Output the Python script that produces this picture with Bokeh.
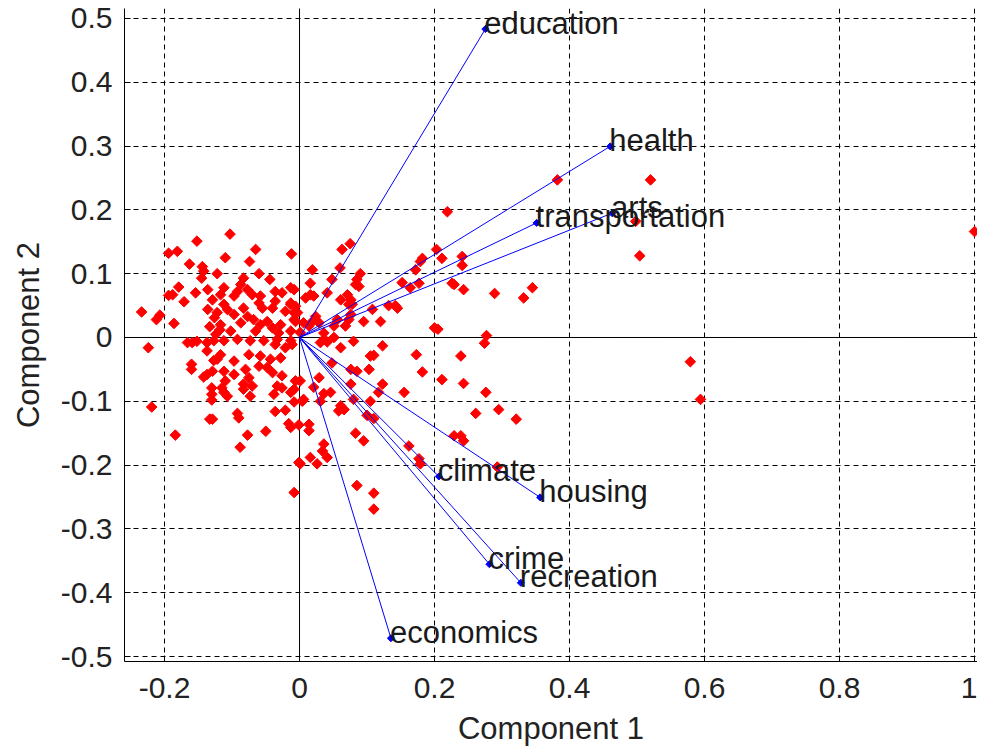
import math
from bokeh.plotting import figure
from bokeh.models import Range1d, Span, FixedTicker, PrintfTickFormatter, ColumnDataSource
from bokeh.core.properties import value
from bokeh.embed import file_html
from bokeh.resources import INLINE

# Variable loadings (component 1, component 2)
var_names = ["climate", "housing", "health", "crime", "transportation",
             "education", "arts", "recreation", "economics"]
coef1 = [0.2064, 0.3565, 0.4602, 0.2813, 0.3512, 0.2753, 0.4631, 0.3279, 0.1354]
coef2 = [-0.2178, -0.2506, 0.2995, -0.3553, 0.1796, 0.4834, 0.1948, -0.3845, -0.4713]

score1 = [
    -0.152, -0.194, -0.181, -0.163, -0.144, -0.142, -0.145, -0.179, -0.194, -0.188,
    -0.171, -0.154, -0.234, -0.212, -0.207, -0.186, -0.136, -0.129, -0.136, -0.126,
    -0.133, -0.124,
    -0.103, -0.065, -0.110, -0.074, -0.012, -0.122, -0.060, -0.044, -0.083, -0.087,
    -0.092, -0.097, -0.112, -0.117, -0.077, -0.070, -0.058, -0.060, -0.055, -0.036,
    -0.026, -0.013, -0.013, -0.021, -0.008, -0.036, -0.040, -0.112, -0.107, -0.097,
    -0.122, -0.083, -0.077, -0.087, -0.068, -0.058, -0.065, -0.048, -0.040, -0.028,
    -0.031, -0.013, -0.006, -0.117, -0.102, -0.118,
    -0.127, -0.112, -0.092, -0.073, -0.053, -0.033, -0.013,
    -0.117, -0.122, -0.097, -0.075, -0.058, -0.043, -0.028,
    -0.036, -0.021, -0.011, -0.060, -0.048, -0.040,
    -0.129, -0.112, -0.097, -0.080, -0.075, -0.070,
    -0.026, -0.033, -0.026, -0.110, -0.115, -0.112, -0.107,
    -0.083, -0.083, -0.073, -0.038, -0.013, -0.006, 0.004,
    -0.036, -0.021, -0.092, -0.090, -0.129, -0.016, -0.001, -0.050, -0.077, -0.088, -0.001,
    -0.224, -0.166, -0.159, -0.152, -0.137, -0.137, -0.127, -0.160, -0.160,
    -0.137, -0.142, -0.130, -0.130, -0.130, -0.219, -0.133, -0.184,
    0.001, -0.008, -0.008, -0.008,
    0.075, 0.063, 0.060, 0.019, 0.048, 0.090, 0.085, 0.083, 0.088, 0.016,
    -0.008, -0.013, 0.016, 0.009, 0.021, 0.041, 0.061, 0.071, 0.076, 0.073, 0.078,
    -0.006, -0.003, -0.008, 0.024, 0.029, 0.019, 0.014, 0.056, 0.051,
    0.076, 0.073, 0.068, 0.108, 0.095, 0.120, 0.132, 0.142, 0.145,
    0.152, 0.164, 0.177, 0.172, 0.179, 0.182, 0.203, 0.211, 0.226, 0.229, 0.243,
    0.241, 0.241, 0.289, 0.332, 0.345, 0.200, 0.205, 0.277, 0.274, 0.123,
    0.061, 0.080, 0.105, 0.173, 0.239, 0.036, 0.036, 0.051, 0.006, 0.001,
    0.031, 0.041, 0.110, 0.182, 0.211, 0.243, 0.276, 0.295, 0.261, 0.321,
    0.048, 0.076, 0.085, 0.103, 0.029, 0.021, 0.006, 0.036, 0.046, 0.076,
    0.123, 0.117, 0.155, 0.031, 0.080, 0.105, 0.061, 0.066, 0.058, 0.100, 0.110,
    0.014, 0.014, -0.013, 0.229, 0.239, 0.243, 0.083, 0.095,
    0.036, 0.034, 0.041, 0.016, 0.026, 0.001, 0.162, 0.177, 0.179, 0.293,
    0.085, 0.110, 0.110,
    0.382, 0.520, 0.498, 0.504, 1.000, 0.579, 0.594, 0.219,
]
score2 = [
    0.151, 0.132, 0.135, 0.115, 0.111, 0.104, 0.093, 0.079, 0.066, 0.067,
    0.056, 0.070, 0.040, 0.028, 0.035, 0.022, 0.075, 0.059, 0.044, 0.031,
    0.017, 0.005,
    0.162, 0.138, 0.125, 0.119, 0.131, 0.100, 0.100, 0.091, 0.093, 0.083,
    0.072, 0.065, 0.078, 0.067, 0.075, 0.067, 0.065, 0.054, 0.046, 0.072,
    0.070, 0.078, 0.052, 0.041, 0.039, 0.057, 0.046, 0.052, 0.044, 0.036,
    0.039, 0.046, 0.033, 0.023, 0.028, 0.020, 0.010, 0.025, 0.015, 0.020,
    0.007, 0.010, 0.025, 0.020, 0.010, 0.012,
    -0.005, -0.005, -0.003, -0.005, -0.005, -0.003, -0.005,
    -0.027, -0.034, -0.037, -0.027, -0.029, -0.034, -0.032,
    -0.011, -0.016, -0.011, -0.045, -0.047, -0.055,
    -0.053, -0.053, -0.058, -0.050, -0.063, -0.076,
    -0.060, -0.076, -0.079, -0.068, -0.079, -0.086, -0.092,
    -0.073, -0.081, -0.092, -0.089, -0.086, -0.068, -0.100,
    -0.116, -0.114, -0.119, -0.126, -0.128, -0.135, -0.137, -0.147, -0.153, -0.172, -0.196,
    -0.016, -0.008, -0.008, -0.006, -0.008, -0.021, -0.036, -0.042, -0.050,
    -0.058, -0.062, -0.079, -0.089, -0.098, -0.109, -0.128, -0.153,
    -0.068, -0.081, -0.101, -0.243,
    0.147, 0.138, 0.109, 0.106, 0.091, 0.100, 0.091, 0.083, 0.080, 0.085,
    0.075, 0.054, 0.067, 0.062, 0.065, 0.070, 0.059, 0.067, 0.059, 0.052, 0.052,
    0.049, 0.039, 0.028, 0.033, 0.023, 0.025, 0.018, 0.028, 0.018,
    0.036, 0.028, 0.018, 0.044, 0.025, 0.025, 0.050, 0.050, 0.046,
    0.086, 0.078, 0.085, 0.106, 0.119, 0.124, 0.138, 0.124, 0.085, 0.083, 0.075,
    0.127, 0.113, 0.069, 0.062, 0.078, 0.015, 0.013, 0.003, -0.009, -0.013,
    -0.016, -0.006, -0.029, -0.027, -0.029, 0.007, -0.003, 0.000, 0.023, 0.008,
    -0.008, -0.007, -0.028, -0.054, -0.066, -0.072, -0.086, -0.113, -0.119, -0.128,
    -0.040, -0.050, -0.053, -0.050, -0.063, -0.078, -0.097, -0.088, -0.086, -0.073,
    -0.073, -0.086, -0.086, -0.100, -0.097, -0.100, -0.107, -0.113, -0.115, -0.122, -0.127,
    -0.136, -0.146, -0.141, -0.154, -0.154, -0.162, -0.150, -0.162,
    -0.167, -0.178, -0.188, -0.188, -0.198, -0.198, -0.170, -0.190, -0.198, -0.203,
    -0.232, -0.244, -0.269,
    0.247, 0.247, 0.182, 0.128, 0.166, -0.038, -0.097, 0.197,
]

x_ticks = [-0.2, 0, 0.2, 0.4, 0.6, 0.8, 1]
y_ticks = [-0.5, -0.4, -0.3, -0.2, -0.1, 0, 0.1, 0.2, 0.3, 0.4, 0.5]

FONT = "Liberation Sans"

p = figure(width=977, height=748, output_backend="svg", toolbar_location=None,
           x_range=Range1d(-0.2593, 1.0044), y_range=Range1d(-0.5078, 0.5156),
           min_border_left=124, min_border_right=0, min_border_top=8,
           min_border_bottom=85)
p.outline_line_color = None
p.background_fill_color = "white"
p.border_fill_color = "white"

for ax in (p.xaxis[0], p.yaxis[0]):
    ax.axis_line_color = "black"
    ax.major_tick_line_color = "black"
    ax.major_tick_in = 6
    ax.major_tick_out = 0
    ax.minor_tick_line_color = None
    ax.major_label_text_font = FONT
    ax.major_label_text_font_size = "30px"
    ax.major_label_text_color = "#222222"
    ax.axis_label_text_font = FONT
    ax.axis_label_text_font_size = "31px"
    ax.axis_label_text_font_style = "normal"
    ax.axis_label_text_color = "#222222"
    ax.formatter = PrintfTickFormatter(format="%g")

p.xaxis.ticker = FixedTicker(ticks=x_ticks)
p.yaxis.ticker = FixedTicker(ticks=y_ticks)
p.xaxis.axis_label = "Component 1"
p.yaxis.axis_label = "Component 2"
p.xaxis.major_label_standoff = 16
p.xaxis.axis_label_standoff = 10
p.yaxis.major_label_standoff = 12
p.yaxis.axis_label_standoff = 12

p.xgrid.ticker = FixedTicker(ticks=x_ticks)
p.ygrid.ticker = FixedTicker(ticks=y_ticks)
for g in (p.xgrid[0], p.ygrid[0]):
    g.grid_line_color = "black"
    g.grid_line_dash = "5 4"
    g.grid_line_width = 1

p.add_layout(Span(location=0, dimension="height", line_color="black", line_width=1, level="underlay"))
p.add_layout(Span(location=0, dimension="width", line_color="black", line_width=1, level="underlay"))

# scores
p.scatter(score1, score2, marker="square", angle=math.pi / 4, size=7.5,
          fill_color="#ff0000", line_color="#ff0000", line_width=1)

# loading vectors
zeros = [0.0] * len(coef1)
p.segment(x0=zeros, y0=zeros, x1=coef1, y1=coef2, line_color="#0000ff", line_width=1)
p.scatter(coef1, coef2, marker="square", angle=math.pi / 4, size=5,
          fill_color="#0000ff", line_color="#0000ff")

src = ColumnDataSource(dict(x=coef1, y=coef2, t=var_names))
p.text(x="x", y="y", text="t", source=src, text_align="left",
       text_baseline="alphabetic", x_offset=-1, y_offset=-6,
       text_font=value(FONT), text_font_size="31px", text_color="#1a1a1a")

open("out.html", "w").write(file_html(p, INLINE))
